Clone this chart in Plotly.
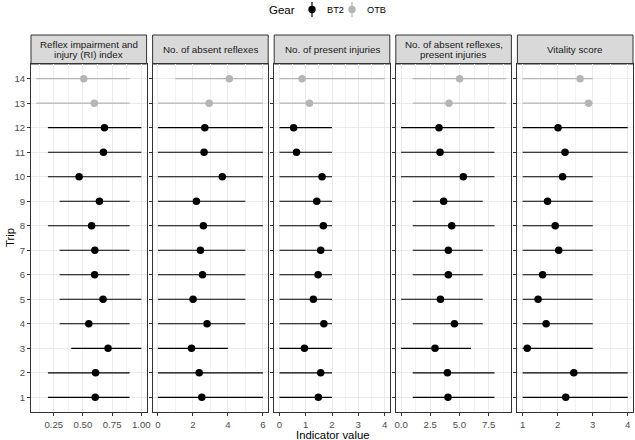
import plotly.graph_objs as go
from plotly.subplots import make_subplots

# --- Data (trip 1..14; trips 13-14 are OTB, the rest BT2) ---
trips = list(range(1, 15))
gear = ['BT2'] * 12 + ['OTB'] * 2

panel_titles = [
    ["Reflex impairment and", "injury (RI) index"],
    ["No. of absent reflexes"],
    ["No. of present injuries"],
    ["No. of absent reflexes,", "present injuries"],
    ["Vitality score"],
]

ri_mid = [0.605, 0.608, 0.715, 0.55, 0.672, 0.60, 0.602, 0.574, 0.641, 0.467, 0.675, 0.684, 0.597, 0.507]
ri_lo = [0.2, 0.2, 0.4, 0.3, 0.3, 0.3, 0.3, 0.2, 0.3, 0.2, 0.2, 0.2, 0.1, 0.1]
ri_hi = [0.9, 0.9, 1.0, 0.9, 1.0, 0.9, 0.9, 0.9, 0.9, 1.0, 1.0, 1.0, 0.9, 0.9]

refl_mid = [2.51, 2.36, 1.92, 2.81, 2.01, 2.55, 2.43, 2.60, 2.20, 3.68, 2.64, 2.68, 2.93, 4.08]
refl_lo = [0, 0, 0, 0, 0, 0, 0, 0, 0, 0, 0, 0, 0, 1]
refl_hi = [6, 6, 4, 5, 5, 5, 5, 6, 5, 6, 6, 6, 6, 6]

inj_mid = [1.48, 1.57, 0.95, 1.69, 1.29, 1.47, 1.57, 1.67, 1.42, 1.62, 0.65, 0.54, 1.14, 0.86]
inj_lo = [0, 0, 0, 0, 0, 0, 0, 0, 0, 0, 0, 0, 0, 0]
inj_hi = [2, 2, 2, 2, 2, 2, 2, 2, 2, 2, 2, 2, 4, 4]

comb_mid = [4.02, 3.97, 2.91, 4.57, 3.37, 4.05, 4.05, 4.34, 3.65, 5.33, 3.34, 3.25, 4.10, 5.02]
comb_lo = [1, 1, 0, 1, 0, 1, 1, 1, 1, 0, 0, 0, 1, 1]
comb_hi = [8, 8, 6, 7, 7, 7, 7, 8, 7, 8, 8, 8, 9, 9]

vit_mid = [2.23, 2.46, 1.13, 1.67, 1.44, 1.57, 2.03, 1.93, 1.71, 2.14, 2.21, 2.01, 2.88, 2.64]
vit_lo = [1, 1, 1, 1, 1, 1, 1, 1, 1, 1, 1, 1, 1, 1]
vit_hi = [4, 4, 3, 3, 3, 3, 3, 3, 3, 3, 4, 4, 3, 3]

panels = [
    (ri_mid, ri_lo, ri_hi),
    (refl_mid, refl_lo, refl_hi),
    (inj_mid, inj_lo, inj_hi),
    (comb_mid, comb_lo, comb_hi),
    (vit_mid, vit_lo, vit_hi),
]

# axis settings per panel: range, tick0, dtick, minor dtick, tick format
x_axes = [
    dict(range=[0.055, 1.045], tick0=0.25, dtick=0.25, minor=0.125, fmt='.2f'),
    dict(range=[-0.3, 6.3], tick0=0, dtick=2, minor=1, fmt='d'),
    dict(range=[-0.2, 4.2], tick0=0, dtick=1, minor=0.5, fmt='d'),
    dict(range=[-0.45, 9.45], tick0=0, dtick=2.5, minor=1.25, fmt='.1f'),
    dict(range=[0.85, 4.15], tick0=1, dtick=1, minor=0.5, fmt='d'),
]

colors = {'BT2': '#000000', 'OTB': '#B5B5B5'}
frame = '#333333'
grid = '#EBEBEB'
font_family = 'Liberation Sans, Arial'
tick_font = dict(family=font_family, size=9.6, color='#4D4D4D')

W, H = 635, 440
ml, mr, mt, mb = 31, 2, 64, 28
plot_w = W - ml - mr
plot_h = H - mt - mb


def px_x(px):
    return (px - ml) / plot_w


def px_y(py):
    return (H - mb - py) / plot_h


fig = make_subplots(rows=1, cols=5, shared_yaxes=True, horizontal_spacing=6 / plot_w)

for p, (mid, lo, hi) in enumerate(panels):
    for g in ['OTB', 'BT2']:
        idx = [i for i in range(len(trips)) if gear[i] == g]
        fig.add_trace(
            go.Scatter(
                x=[mid[i] for i in idx],
                y=[trips[i] for i in idx],
                mode='markers',
                marker=dict(color=colors[g], size=7.5),
                error_x=dict(
                    type='data', symmetric=False,
                    array=[hi[i] - mid[i] for i in idx],
                    arrayminus=[mid[i] - lo[i] for i in idx],
                    width=0, thickness=1.2, color=colors[g]
                ),
                name=g,
                showlegend=False,
                hoverinfo='skip'
            ),
            row=1, col=p + 1
        )

    ax = x_axes[p]
    fig.update_xaxes(
        range=ax['range'], tick0=ax['tick0'], dtick=ax['dtick'], tickformat=ax['fmt'],
        showline=True, mirror=True, linecolor=frame, linewidth=1,
        ticks='outside', ticklen=3, tickcolor=frame, tickwidth=1,
        showgrid=True, gridcolor=grid, gridwidth=1, zeroline=False,
        minor=dict(dtick=ax['minor'], tick0=ax['tick0'], showgrid=True, gridcolor='#F3F3F3', gridwidth=0.6),
        tickfont=tick_font, automargin=False,
        row=1, col=p + 1
    )

fig.update_yaxes(
    range=[0.4, 14.6], tickmode='array', tickvals=trips, ticktext=[str(t) for t in trips],
    showline=True, mirror=True, linecolor=frame, linewidth=1,
    ticks='outside', ticklen=3, tickcolor=frame, tickwidth=1,
    showgrid=True, gridcolor=grid, gridwidth=1, zeroline=False,
    tickfont=tick_font, automargin=False
)

# --- Facet strips ---
strip_top = px_y(35)
for p in range(5):
    dom = fig.layout['xaxis' if p == 0 else 'xaxis%d' % (p + 1)].domain
    fig.add_shape(type='rect', xref='paper', yref='paper',
                  x0=dom[0], x1=dom[1], y0=1.0, y1=strip_top,
                  fillcolor='#D9D9D9', line=dict(color=frame, width=1), layer='below')
    lines = panel_titles[p]
    line_ys = [49.5] if len(lines) == 1 else [44.5, 55]
    for txt, ly in zip(lines, line_ys):
        fig.add_annotation(x=(dom[0] + dom[1]) / 2, y=px_y(ly), xref='paper', yref='paper',
                           xanchor='center', yanchor='middle',
                           text=txt, showarrow=False,
                           font=dict(family=font_family, size=9.8, color='#1A1A1A'))

# --- Legend (drawn by hand: point with vertical range line) ---
leg_y = 9.5
fig.add_annotation(x=px_x(297), y=px_y(leg_y), xref='paper', yref='paper',
                   xanchor='right', yanchor='middle',
                   text='Gear', showarrow=False,
                   font=dict(family=font_family, size=11.5, color='#000000'))
for g, kx, tx in [('BT2', 312, 325), ('OTB', 352, 365)]:
    fig.add_shape(type='line', xref='paper', yref='paper',
                  x0=px_x(kx), x1=px_x(kx), y0=px_y(leg_y - 7.5), y1=px_y(leg_y + 7.5),
                  line=dict(color=colors[g], width=1.2))
    fig.add_shape(type='circle', xref='paper', yref='paper',
                  x0=px_x(kx - 3.7), x1=px_x(kx + 3.7), y0=px_y(leg_y - 3.7), y1=px_y(leg_y + 3.7),
                  fillcolor=colors[g], line=dict(color=colors[g], width=0))
    fig.add_annotation(x=px_x(tx), y=px_y(leg_y), xref='paper', yref='paper',
                       xanchor='left', yanchor='middle',
                       text=g, showarrow=False,
                       font=dict(family=font_family, size=9.2, color='#000000'))

# --- Axis titles ---
fig.add_annotation(x=0.5, y=px_y(434.5), xref='paper', yref='paper',
                   xanchor='center', yanchor='middle',
                   text='Indicator value', showarrow=False,
                   font=dict(family=font_family, size=11.3, color='#000000'))
fig.add_annotation(x=px_x(10), y=0.5, xref='paper', yref='paper',
                   xanchor='center', yanchor='middle', textangle=-90,
                   text='Trip', showarrow=False,
                   font=dict(family=font_family, size=11.3, color='#000000'))

fig.update_layout(
    width=W, height=H,
    margin=dict(l=ml, r=mr, t=mt, b=mb, autoexpand=False),
    paper_bgcolor='white', plot_bgcolor='white',
    showlegend=False
)

fig.write_html("out.html", config={'displayModeBar': False},
               post_script="document.body.style.margin='0px';")
